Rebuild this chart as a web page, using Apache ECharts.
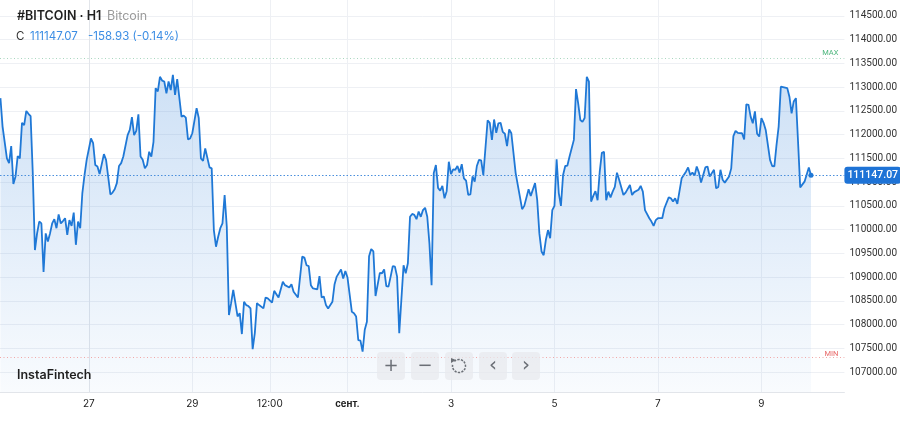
<!DOCTYPE html>
<html>
<head>
<meta charset="utf-8">
<script src="https://cdn.jsdelivr.net/npm/echarts@6.0.0/dist/echarts.min.js"></script>
<style>
html,body{margin:0;padding:0;background:#fff;}
#c{width:900px;height:424px;}
</style>
</head>
<body>
<div id="c"></div>
<script>
// hours relative to 27 Aug 00:00 (H1 candles, close prices)
const hours = [-41,-40,-38,-37,-36,-35,-34,-33,-32,-31,-30,-29,-28,-27,-26,-25,-24,-23,-22,-21,-20,-19,-18,-17,-16,-15,-14,-13,-12,-11,-10,-9,-8,-7,-6,-5,-4,-3,-2,-1,
1,2,3,4,5,7,8,10,11,12,13,14,15,16,18,19,20,21,22,23,24,25,26,27,28,29,30,31,32,33,34,35,36,37,38,39,40,41,43,44,45,46,47,48,
50,51,52,53,54,56,57,58,59,60,61,62,63,64,65,66,67,68,69,70,71,72,73,74,75,76,77,78,79,81,82,83,85,86,87,88,90,91,93,94,95,97,
99,100,101,102,103,104,106,107,108,109,110,111,113,114,115,117,118,119,120,122,123,124,125,126,127,128,129,130,131,132,133,135,136,137,138,139,140,141,142,143,144,
146,147,148,149,150,151,152,153,154,155,156,157,158,159,160,161,162,163,164,165,166,167,168,169,170,171,172,173,174,175,176,177,178,179,180,181,182,183,
185,186,187,188,189,190,191,192,193,194,195,196,198,201,202,204,205,207,208,209,210,211,212,213,214,215,216,217,218,219,220,221,222,223,225,226,227,228,229,230,
231,232,233,234,235,236,237,238,239,240,241,242,243,244,245,246,248,249,251,252,253,255,256,257,258,260,261,262,263,264,266,267,269,270,271,272,273,275,277,278,
279,280,281,282,283,284,285,286,287,288,289,290,291,292,293,294,295,297,298,299,300,301,303,304,305,306,307,308,309,310,311,312,313,314,316,317,318,319,320,321,
322,324,325,326,327,328,329,330,332,334,335];
const prices = [112770,112170,111500,111400,111760,110960,111120,111550,111500,112250,112200,112500,112440,112390,111190,109570,109920,110170,110130,109110,109920,109750,109920,110130,110220,110030,110320,110130,110180,110240,109890,110200,110080,110360,109680,110170,110030,110770,111150,111470,
111920,111820,111360,111330,111170,111590,111470,110740,110780,110850,110980,111340,111400,111540,111990,112100,112370,111990,112080,112430,111540,111470,111290,111360,111640,111540,111850,112980,112910,113220,113140,113120,112870,113120,112940,113260,112840,113170,112380,112400,112360,111900,111920,112030,
112560,112350,111500,111450,111710,111310,111290,109990,109640,109850,110030,110130,110730,110060,108200,108450,108730,108450,108170,108240,107800,108480,108410,108390,108340,107480,107820,108450,108410,108340,108570,108550,108460,108710,108640,108570,108900,108830,108780,108850,108690,108570,
109430,109410,109250,109230,108830,108760,108740,109020,108570,108590,108410,108340,108480,108850,109010,109160,108970,109130,108990,108270,108240,108170,107670,107660,107430,107890,108060,109440,109590,109540,108600,109090,109080,109160,108810,108800,109010,109230,109220,109010,107820,
109250,109080,109290,110270,110330,110310,110220,110380,110270,110410,110460,110270,109710,108830,111190,111360,110880,110820,110920,110660,110810,111430,111170,111270,111260,111340,111200,111380,111080,111030,110730,110740,111120,111010,111340,111470,111460,111150,
112300,112250,111890,112320,112040,112240,112250,112060,112020,111760,112110,112030,111190,110430,110500,110850,110710,110980,110620,109920,109540,109460,109780,109990,109820,110410,110500,111480,110770,110500,111150,111340,111350,111540,111890,112960,112660,112310,112270,112350,
113220,113120,110590,110710,110810,110620,111220,111620,111640,110620,110800,110680,110800,110900,111200,111050,110730,110780,110940,110730,110790,110840,110920,110800,110410,110240,110170,110080,110200,110240,110240,110450,110680,110660,110590,110660,110540,111080,111220,111310,
111150,111200,111140,111330,111200,110990,111150,111310,111330,111120,111190,111260,110870,110900,111260,111050,110990,111120,111290,111970,112080,112040,112030,111900,112640,112630,112380,112240,112490,112020,111960,112350,112250,112100,111470,111340,111330,111780,112170,113010,
113000,112980,112800,112450,112700,112770,111850,110890,111010,111310,111147.07];

const xTickHours = [0, 48, 84, 120, 168, 216, 264, 312];
const xTickLabels = ['27', '29', '12:00', 'сент.', '3', '5', '7', '9'];
const yTicks = [107000,107500,108000,108500,109000,109500,110000,110500,111000,111500,112000,112500,113000,113500,114000,114500];
const lastPrice = 111147.07;
const change = '-158.93 (-0.14%)';
const maxLevel = 113620;
const minLevel = 107320;

const chart = echarts.init(document.getElementById('c'), null, {renderer: 'canvas'});
const seriesData = hours.map((h, i) => [h, prices[i]]);

const btnX = [377, 411, 445, 479, 512];
const btnGlyph = ['+', '−', '', '‹', '›'];
const graphics = [];
btnX.forEach((x, i) => {
  graphics.push({type: 'rect', left: x, top: 352, shape: {width: 28, height: 28, r: 4},
    style: {fill: 'rgba(232,234,238,0.75)'}, z: 100});
  if (btnGlyph[i]) {
    graphics.push({type: 'text', x: x + 14, y: 366, z: 101,
      style: {text: btnGlyph[i], fill: '#6b6f76', font: (i >= 3 ? '20px' : '18px') + ' "DejaVu Sans"', align: 'center', verticalAlign: 'middle'}});
  }
});
graphics.push({type: 'arc', z: 101, shape: {cx: 459, cy: 366, r: 6.5, startAngle: -Math.PI * 0.75, endAngle: Math.PI * 1.05},
  style: {stroke: '#6b6f76', lineWidth: 1.5, fill: null, lineDash: [2.2, 1.2]}});
graphics.push({type: 'polygon', z: 101, shape: {points: [[451, 358], [456, 360], [451, 363]]}, style: {fill: '#6b6f76'}});

graphics.push({type: 'text', x: 17, y: 10, z: 100,
  style: {text: '#BITCOIN · H1', fill: '#1f1f1f', font: '600 12.5px Inter'}});
graphics.push({type: 'text', x: 107, y: 10, z: 100,
  style: {text: 'Bitcoin', fill: '#9a9a9a', font: '12.5px Inter'}});
graphics.push({type: 'text', x: 16, y: 31, z: 100,
  style: {text: 'C', fill: '#333', font: '11.5px Inter'}});
graphics.push({type: 'text', x: 30, y: 31, z: 100,
  style: {text: lastPrice.toFixed(2), fill: '#3b8de4', font: '11.5px Inter'}});
graphics.push({type: 'text', x: 88, y: 31, z: 100,
  style: {text: change, fill: '#3b8de4', font: '11.5px Inter'}});
graphics.push({type: 'text', x: 17, y: 369, z: 100,
  style: {text: 'InstaFintech', fill: '#1f1f1f', font: '600 12.5px Inter'}});

chart.setOption({
  animation: false,
  backgroundColor: '#fff',
  grid: {left: 0, right: 54, top: 0, bottom: 32, containLabel: false},
  xAxis: {
    type: 'value', min: -41.2, max: 350.5,
    axisLine: {show: true, lineStyle: {color: '#e2e5ea'}},
    axisTick: {show: false, customValues: xTickHours},
    axisLabel: {
      customValues: xTickHours, color: '#222', fontSize: 10, margin: 7, fontFamily: 'Inter',
      formatter: v => {
        const i = xTickHours.indexOf(v);
        const t = i >= 0 ? xTickLabels[i] : '';
        return t === 'сент.' ? '{b|' + t + '}' : t;
      },
      rich: {b: {fontWeight: 'bold', fontSize: 9.5, fontFamily: 'Inter', color: '#222'}}
    },
    splitLine: {show: true, lineStyle: {color: '#eef0f4', width: 1}}
  },
  yAxis: {
    type: 'value', position: 'right', min: 106579, max: 114837,
    axisLine: {show: true, lineStyle: {color: '#e2e5ea'}},
    axisTick: {show: false, customValues: yTicks},
    axisLabel: {customValues: yTicks, color: '#333', fontSize: 10, margin: 5, fontFamily: 'Roboto',
      formatter: v => v.toFixed(2)},
    splitLine: {show: true, lineStyle: {color: '#eef0f4', width: 1}}
  },
  graphic: graphics,
  series: [{
    type: 'line',
    data: seriesData,
    showSymbol: false,
    symbol: 'none',
    lineStyle: {color: '#1f78d6', width: 1.8},
    areaStyle: {
      color: new echarts.graphic.LinearGradient(0, 0, 0, 1, [
        {offset: 0, color: 'rgba(78,146,222,0.4)'},
        {offset: 1, color: 'rgba(78,146,222,0.05)'}
      ])
    },
    markPoint: {
      symbol: 'circle', symbolSize: 5, silent: true,
      itemStyle: {color: '#1f78d6'}, label: {show: false},
      data: [{coord: [hours[hours.length - 1], lastPrice]}]
    },
    markLine: {
      silent: true, symbol: 'none', animation: false,
      data: [
        {yAxis: lastPrice, lineStyle: {color: '#4a8fdc', type: [1.5, 2], width: 1},
          label: {show: true, position: 'end', distance: 0, formatter: lastPrice.toFixed(2), color: '#fff',
            backgroundColor: '#1e73d6', borderRadius: 3, padding: [3, 3, 3, 3], fontSize: 10.5, fontFamily: 'Roboto', fontWeight: 500}},
        {yAxis: maxLevel, lineStyle: {color: '#a9d6bf', type: [1, 2.5], width: 1},
          label: {show: true, position: 'insideEndTop', distance: [6, 1], formatter: 'MAX', color: '#4cb67c', fontSize: 7.5, fontFamily: 'Roboto'}},
        {yAxis: minLevel, lineStyle: {color: '#f0a8a8', type: [1, 2.5], width: 1},
          label: {show: true, position: 'insideEndTop', distance: [6, -1], formatter: 'MIN', color: '#e86767', fontSize: 7.5, fontFamily: 'Roboto'}}
      ]
    }
  }]
});
</script>
</body>
</html>
